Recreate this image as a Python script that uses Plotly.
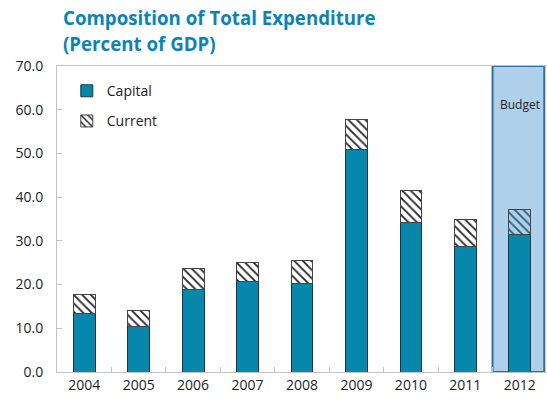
import plotly.graph_objects as go

years = ["2004", "2005", "2006", "2007", "2008", "2009", "2010", "2011", "2012"]
capital = [13.3, 10.4, 18.9, 20.7, 20.3, 50.9, 34.1, 28.7, 31.4]
total = [17.8, 14.1, 23.6, 25.1, 25.5, 57.8, 41.5, 35.0, 37.2]
current = [round(t - c, 1) for t, c in zip(total, capital)]
ytick_vals = [0, 10, 20, 30, 40, 50, 60, 70]
ytick_text = ["0.0", "10.0", "20.0", "30.0", "40.0", "50.0", "60.0", "70.0"]
title_lines = ["Composition of Total Expenditure", "(Percent of GDP)"]

blue = "#0887ad"
hatch_bg = ["white"] * 8 + ["#aed0ea"]
hatch_fg = ["#222222"] * 8 + ["#2a5d7a"]
title_color = "#0a84b5"

fig = go.Figure()
fig.add_trace(go.Bar(
    x=years, y=capital, name="Capital", legendgroup="a",
    marker=dict(color=blue, line=dict(color="#1c3440", width=1)),
    width=0.4,
))
fig.add_trace(go.Bar(
    x=years, y=current, name="Current", legendgroup="b",
    marker=dict(color="white", line=dict(color="#444444", width=1),
                pattern=dict(shape="\\", bgcolor=hatch_bg, fgcolor=hatch_fg,
                             size=6, solidity=0.3, fillmode="replace")),
    width=0.4,
))

fig.add_shape(type="rect", xref="x", yref="y", x0=7.5, x1=8.45, y0=0, y1=70,
              fillcolor="#aed0ea", line=dict(color="#2a6fa5", width=2), layer="below")
fig.add_annotation(x=8, y=61.2, xref="x", yref="y", text="Budget", showarrow=False,
                   font=dict(size=12, color="#222222", family="Open Sans"))

for txt, ypix in zip(title_lines, [17, 43]):
    fig.add_annotation(
        x=(61 - 57) / 490, xref="paper", xanchor="left",
        y=1 + (66 - ypix) / 306, yref="paper", yanchor="middle",
        text="<b>" + txt + "</b>", showarrow=False,
        font=dict(size=18.7, color=title_color, family="Open Sans"),
    )

fig.update_layout(
    barmode="stack",
    width=547, height=402,
    margin=dict(l=57, r=0, t=66, b=30),
    paper_bgcolor="white", plot_bgcolor="white",
    font=dict(family="Open Sans", size=14, color="#222222"),
    legend=dict(x=0.02, y=0.97, xanchor="left", yanchor="top",
                traceorder="grouped", tracegroupgap=9,
                font=dict(size=14, color="#222222"), bgcolor="rgba(0,0,0,0)"),
    showlegend=True,
)
fig.update_xaxes(type="category", showline=True, linecolor="#c4c4c4", mirror=True,
                 ticks="inside", tickson="boundaries", ticklen=5, tickcolor="#c4c4c4",
                 showgrid=False, tickfont=dict(size=14))
fig.update_yaxes(range=[0, 70], tickvals=ytick_vals, ticktext=ytick_text,
                 showline=True, linecolor="#c4c4c4", mirror=True, ticks="inside",
                 ticklen=5, tickcolor="#c4c4c4", showgrid=False, zeroline=False,
                 tickfont=dict(size=14), ticklabelstandoff=10)

fig.write_html("out.html", config={"displayModeBar": False},
               post_script="document.body.style.margin='0';document.body.style.overflow='hidden';")
